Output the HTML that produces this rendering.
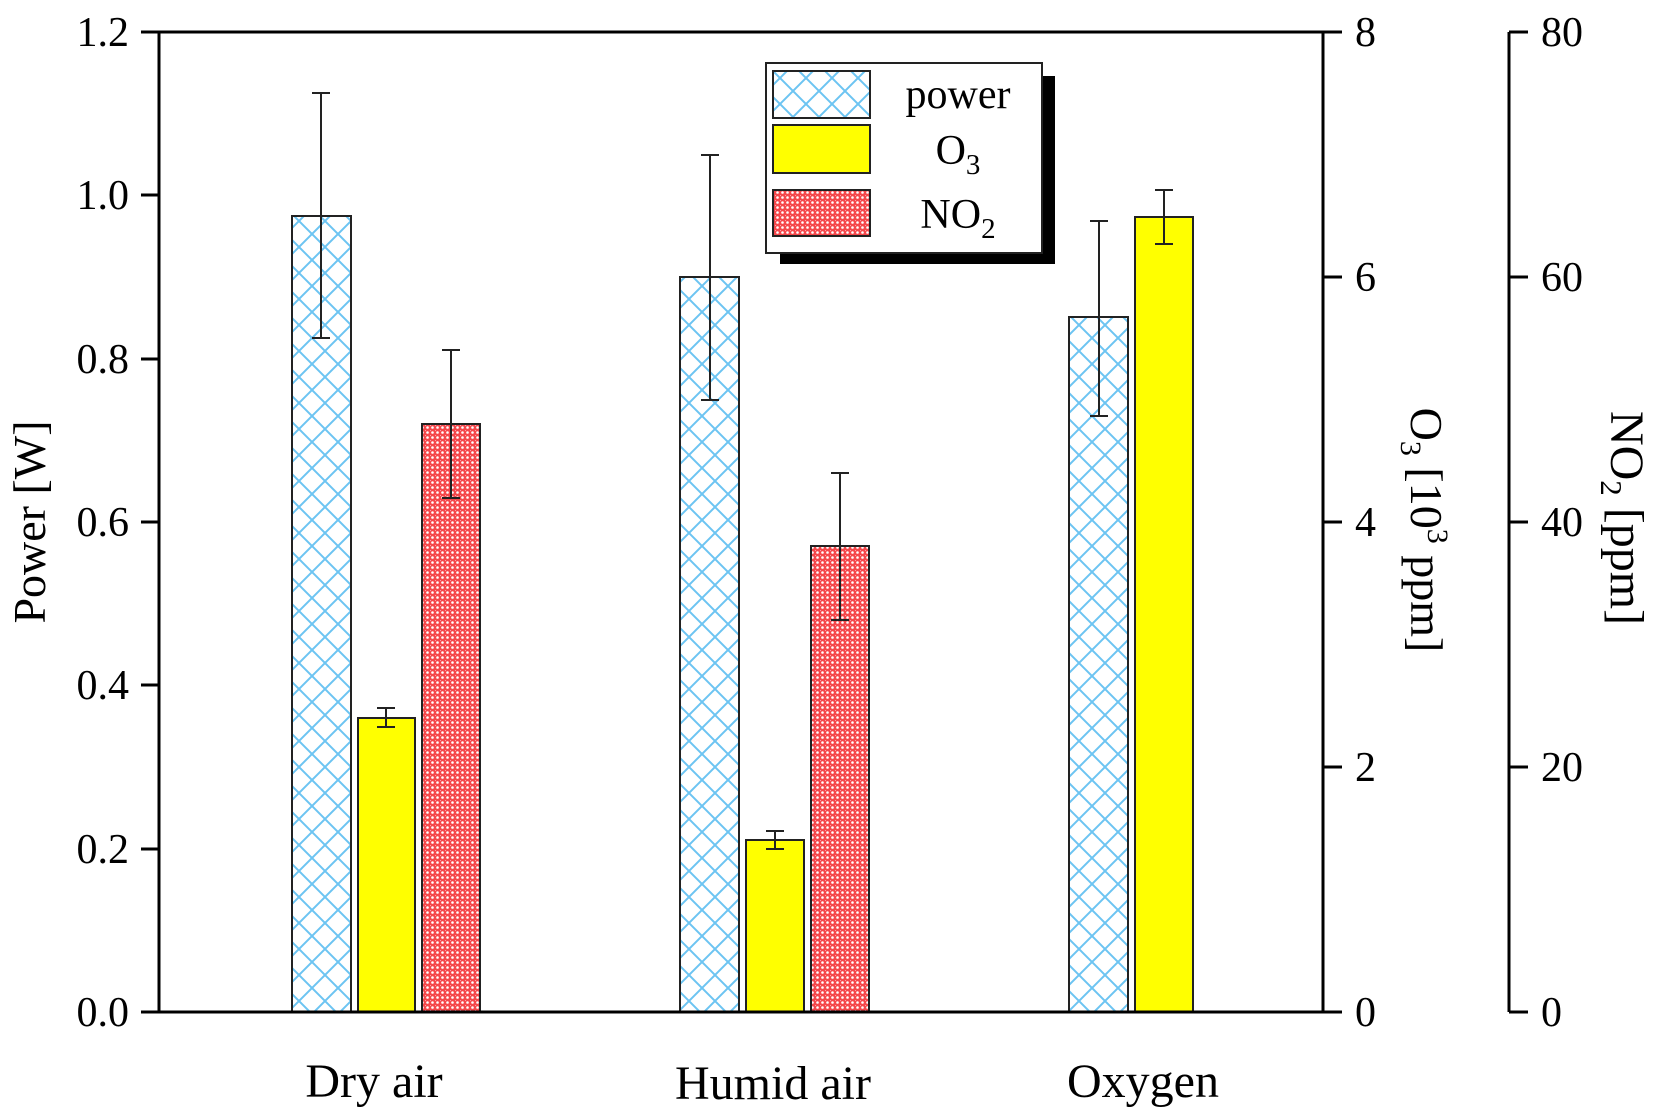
<!DOCTYPE html>
<html><head><meta charset="utf-8"><style>
html,body{margin:0;padding:0;background:#fff;}
svg{display:block;}
text{font-family:"Liberation Serif",serif;fill:#000;}
</style></head><body>
<svg width="1654" height="1111" viewBox="0 0 1654 1111" xmlns="http://www.w3.org/2000/svg">
<defs>
<pattern id="hatch" width="26" height="26" patternUnits="userSpaceOnUse">
<rect width="26" height="26" fill="#fff"/>
<path d="M0,0 L26,26 M26,0 L0,26 M-13,13 L13,-13 M13,39 L39,13 M-13,13 L13,39 M13,-13 L39,13" stroke="#6cc4f2" stroke-width="2"/>
</pattern>
<pattern id="dots" width="5" height="5" patternUnits="userSpaceOnUse">
<rect width="5" height="5" fill="#f5474a"/>
<circle cx="2.5" cy="2.5" r="1.3" fill="#fff"/>
<circle cx="0" cy="0" r="0.9" fill="#fde"/>
</pattern>
</defs>

<g stroke="#222" stroke-width="2">
<rect x="292" y="216" width="59" height="796" fill="url(#hatch)"/>
<rect x="358" y="718" width="57" height="294" fill="#ffff00"/>
<rect x="422" y="424" width="58" height="588" fill="url(#dots)"/>
<rect x="680" y="277" width="59" height="735" fill="url(#hatch)"/>
<rect x="746" y="840" width="58" height="172" fill="#ffff00"/>
<rect x="811" y="546" width="58" height="466" fill="url(#dots)"/>
<rect x="1069" y="317" width="59" height="695" fill="url(#hatch)"/>
<rect x="1135" y="217" width="58" height="795" fill="#ffff00"/>
</g>

<g stroke="#222" stroke-width="2" fill="none">
<path d="M321,93 V338 M312,93 H330 M312,338 H330"/>
<path d="M386,708 V727 M377,708 H395 M377,727 H395"/>
<path d="M451,350 V498 M442,350 H460 M442,498 H460"/>
<path d="M710,155 V400 M701,155 H719 M701,400 H719"/>
<path d="M775,831 V849 M766,831 H784 M766,849 H784"/>
<path d="M840,473 V620 M831,473 H849 M831,620 H849"/>
<path d="M1099,221 V416 M1090,221 H1108 M1090,416 H1108"/>
<path d="M1164,190 V244 M1155,190 H1173 M1155,244 H1173"/>
</g>

<g stroke="#000" stroke-width="3" fill="none">
<path d="M159,32 V1012 M141,1012 H1323 M159,32 H1323 M1323,32 V1012"/>
<path d="M1509,32 V1012"/>
</g>
<g stroke="#000" stroke-width="3">
<path d="M141,32 H159 M141,195 H159 M141,359 H159 M141,522 H159 M141,685 H159 M141,849 H159"/>
<path d="M1323,32 H1342 M1323,277 H1342 M1323,522 H1342 M1323,767 H1342 M1323,1012 H1342"/>
<path d="M1509,32 H1528 M1509,277 H1528 M1509,522 H1528 M1509,767 H1528 M1509,1012 H1528"/>
</g>

<g font-size="42" text-anchor="end">
<text x="129" y="46">1.2</text>
<text x="129" y="209">1.0</text>
<text x="129" y="373">0.8</text>
<text x="129" y="536">0.6</text>
<text x="129" y="699">0.4</text>
<text x="129" y="863">0.2</text>
<text x="129" y="1026">0.0</text>
</g>
<g font-size="42">
<text x="1355" y="46">8</text>
<text x="1355" y="291">6</text>
<text x="1355" y="536">4</text>
<text x="1355" y="781">2</text>
<text x="1355" y="1026">0</text>
<text x="1541" y="46">80</text>
<text x="1541" y="291">60</text>
<text x="1541" y="536">40</text>
<text x="1541" y="781">20</text>
<text x="1541" y="1026">0</text>
</g>

<g font-size="48" text-anchor="middle">
<text x="374" y="1097">Dry air</text>
<text x="773" y="1099">Humid air</text>
<text x="1143" y="1097">Oxygen</text>
</g>

<text font-size="46" text-anchor="middle" transform="translate(45,522) rotate(-90)">Power [W]</text>
<text font-size="46" text-anchor="middle" transform="translate(1411,530) rotate(90)">O<tspan font-size="30" dy="10">3</tspan><tspan dy="-10"> [10</tspan><tspan font-size="30" dy="-17">3</tspan><tspan dy="17"> ppm]</tspan></text>
<text font-size="48" text-anchor="middle" transform="translate(1611,518) rotate(90)">NO<tspan font-size="31" dy="10">2</tspan><tspan dy="-10"> [ppm]</tspan></text>

<rect x="780" y="76" width="275" height="188" fill="#000"/>
<rect x="766" y="63" width="276" height="190" fill="#fff" stroke="#222" stroke-width="2"/>
<g stroke="#222" stroke-width="2">
<rect x="773" y="71" width="97" height="47" fill="url(#hatch)"/>
<rect x="773" y="125" width="97" height="48" fill="#ffff00"/>
<rect x="773" y="190" width="97" height="46" fill="url(#dots)"/>
</g>
<g font-size="42" text-anchor="middle">
<text x="958" y="108">power</text>
<text x="958" y="164">O<tspan font-size="29" dy="10">3</tspan></text>
<text x="958" y="228">NO<tspan font-size="29" dy="10">2</tspan></text>
</g>
</svg>
</body></html>
